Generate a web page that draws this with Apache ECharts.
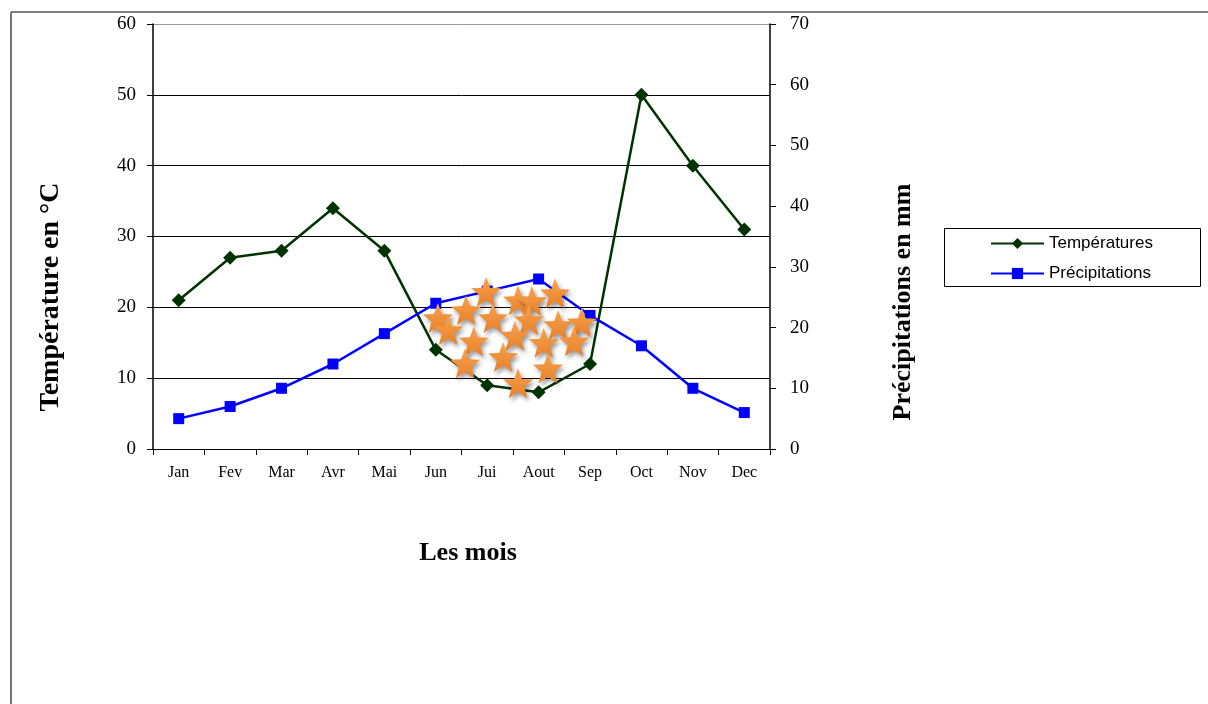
<!DOCTYPE html>
<html>
<head>
<meta charset="utf-8">
<script src="https://cdn.jsdelivr.net/npm/echarts@6/dist/echarts.min.js"></script>
<style>
  html, body { margin: 0; padding: 0; background: #fff; }
  #chart { width: 1208px; height: 704px; }
</style>
</head>
<body>
<div id="chart"></div>
<script>
// Months on the category axis
const months = ['Jan', 'Fev', 'Mar', 'Avr', 'Mai', 'Jun', 'Jui', 'Aout', 'Sep', 'Oct', 'Nov', 'Dec'];

// Monthly temperature (°C, left axis)
const temperatures = [21, 27, 28, 34, 28, 14, 9, 8, 12, 50, 40, 31];

// Monthly precipitation (mm, right axis)
const precipitations = [5, 7, 10, 14, 19, 24, 26, 28, 22, 17, 10, 6];

// Star markers filling the dry season: [month position (0 = Jan), temperature °C]
const dryStarsX = [5.98, 6.60, 6.87, 7.32, 5.59, 5.04, 6.11, 6.81, 7.38, 7.84, 5.24, 6.54, 5.74, 7.10, 7.69, 6.31, 5.57, 7.18, 6.60];
const dryStarsY = [22.2, 21.0, 20.9, 22.0, 19.6, 18.5, 18.5, 18.2, 17.5, 17.9, 16.8, 16.0, 15.2, 15.0, 15.2, 13.0, 12.1, 11.4, 9.3];

// Five-pointed star outline for the symbol
function starPath() {
  let d = '';
  for (let i = 0; i < 10; i++) {
    const r = i % 2 ? 0.42 : 1;
    const a = -Math.PI / 2 + i * Math.PI / 5;
    const x = (r * Math.cos(a)).toFixed(4);
    const y = (r * Math.sin(a)).toFixed(4);
    d += (i === 0 ? 'M' : 'L') + x + ' ' + y + ' ';
  }
  return 'path://' + d + 'Z';
}

const serif = 'Liberation Serif';
const sans = 'Liberation Sans';

const chart = echarts.init(document.getElementById('chart'), null, { renderer: 'canvas' });

chart.setOption({
  backgroundColor: '#ffffff',
  animation: false,
  grid: { left: 153, right: 438, top: 24, bottom: 255, containLabel: false },
  xAxis: [
    {
      type: 'category',
      data: months,
      boundaryGap: true,
      axisLine: { show: true, onZero: false, lineStyle: { color: '#000', width: 1 } },
      axisTick: { show: true, alignWithLabel: false, length: 6, lineStyle: { color: '#000' } },
      axisLabel: { color: '#000', fontFamily: serif, fontSize: 16, margin: 16 },
      splitLine: { show: false }
    },
    {
      type: 'value',
      min: -0.5,
      max: 11.5,
      show: false
    }
  ],
  yAxis: [
    {
      type: 'value',
      min: 0,
      max: 60,
      interval: 10,
      position: 'left',
      axisLine: { show: true, onZero: false, lineStyle: { color: '#000', width: 1.5 } },
      axisTick: { show: true, length: 6, lineStyle: { color: '#000' } },
      axisLabel: { color: '#000', fontFamily: serif, fontSize: 19, margin: 17 },
      splitLine: {
        show: true,
        lineStyle: { color: ['#000', '#000', '#000', '#000', '#000', '#000', '#999'], width: 1 }
      }
    },
    {
      type: 'value',
      min: 0,
      max: 70,
      interval: 10,
      position: 'right',
      axisLine: { show: true, onZero: false, lineStyle: { color: '#000', width: 1.5 } },
      axisTick: { show: true, inside: false, length: 6, lineStyle: { color: '#000' } },
      axisLabel: { color: '#000', fontFamily: serif, fontSize: 19, margin: 20 },
      splitLine: { show: false }
    }
  ],
  legend: {
    orient: 'vertical',
    left: 990,
    top: 235,
    padding: 0,
    itemWidth: 53,
    itemHeight: 14,
    itemGap: 13,
    textStyle: { color: '#000', fontFamily: sans, fontSize: 17 },
    data: ['Températures', 'Précipitations']
  },
  graphic: [
    // outer frame edges
    { type: 'line', shape: { x1: 11, y1: 12, x2: 1208, y2: 12 }, style: { stroke: '#555', lineWidth: 1.5 }, z: 0 },
    { type: 'line', shape: { x1: 11, y1: 12, x2: 11, y2: 704 }, style: { stroke: '#777', lineWidth: 2 }, z: 0 },
    // legend box
    { type: 'rect', shape: { x: 944.5, y: 228.5, width: 256, height: 58 }, style: { fill: 'none', stroke: '#000', lineWidth: 1 }, z: 0 },
    // axis titles
    {
      type: 'text', x: 51, y: 297, rotation: Math.PI / 2,
      style: { text: 'Température en °C', fill: '#000', font: 'bold 28px "Liberation Serif"', align: 'center', verticalAlign: 'middle' }
    },
    {
      type: 'text', x: 903, y: 302, rotation: Math.PI / 2,
      style: { text: 'Précipitations en mm', fill: '#000', font: 'bold 26px "Liberation Serif"', align: 'center', verticalAlign: 'middle' }
    },
    {
      type: 'text', x: 468, y: 553,
      style: { text: 'Les mois', fill: '#000', font: 'bold 26px "Liberation Serif"', align: 'center', verticalAlign: 'middle' }
    }
  ],
  series: [
    {
      name: 'Températures',
      type: 'line',
      xAxisIndex: 0,
      yAxisIndex: 0,
      data: temperatures,
      symbol: 'diamond',
      symbolSize: 14,
      showAllSymbol: true,
      lineStyle: { color: '#003300', width: 2.5 },
      itemStyle: { color: '#003300', borderWidth: 0 },
      z: 3
    },
    {
      name: 'Précipitations',
      type: 'line',
      xAxisIndex: 0,
      yAxisIndex: 1,
      data: precipitations,
      symbol: 'rect',
      symbolSize: 11,
      showAllSymbol: true,
      lineStyle: { color: '#0000ff', width: 2.5 },
      itemStyle: { color: '#0000ff', borderWidth: 0 },
      z: 3
    },
    {
      name: 'dry',
      type: 'scatter',
      xAxisIndex: 1,
      yAxisIndex: 0,
      data: dryStarsX.map((x, i) => [x, dryStarsY[i]]),
      symbol: starPath(),
      symbolSize: 30,
      itemStyle: {
        color: {
          type: 'linear', x: 0, y: 0, x2: 0, y2: 1,
          colorStops: [
            { offset: 0, color: '#f9a24c' },
            { offset: 1, color: '#e8802a' }
          ]
        },
        opacity: 1,
        shadowColor: 'rgba(0,0,0,0.4)',
        shadowBlur: 4,
        shadowOffsetX: 2,
        shadowOffsetY: 3
      },
      z: 5
    }
  ]
});
</script>
</body>
</html>
